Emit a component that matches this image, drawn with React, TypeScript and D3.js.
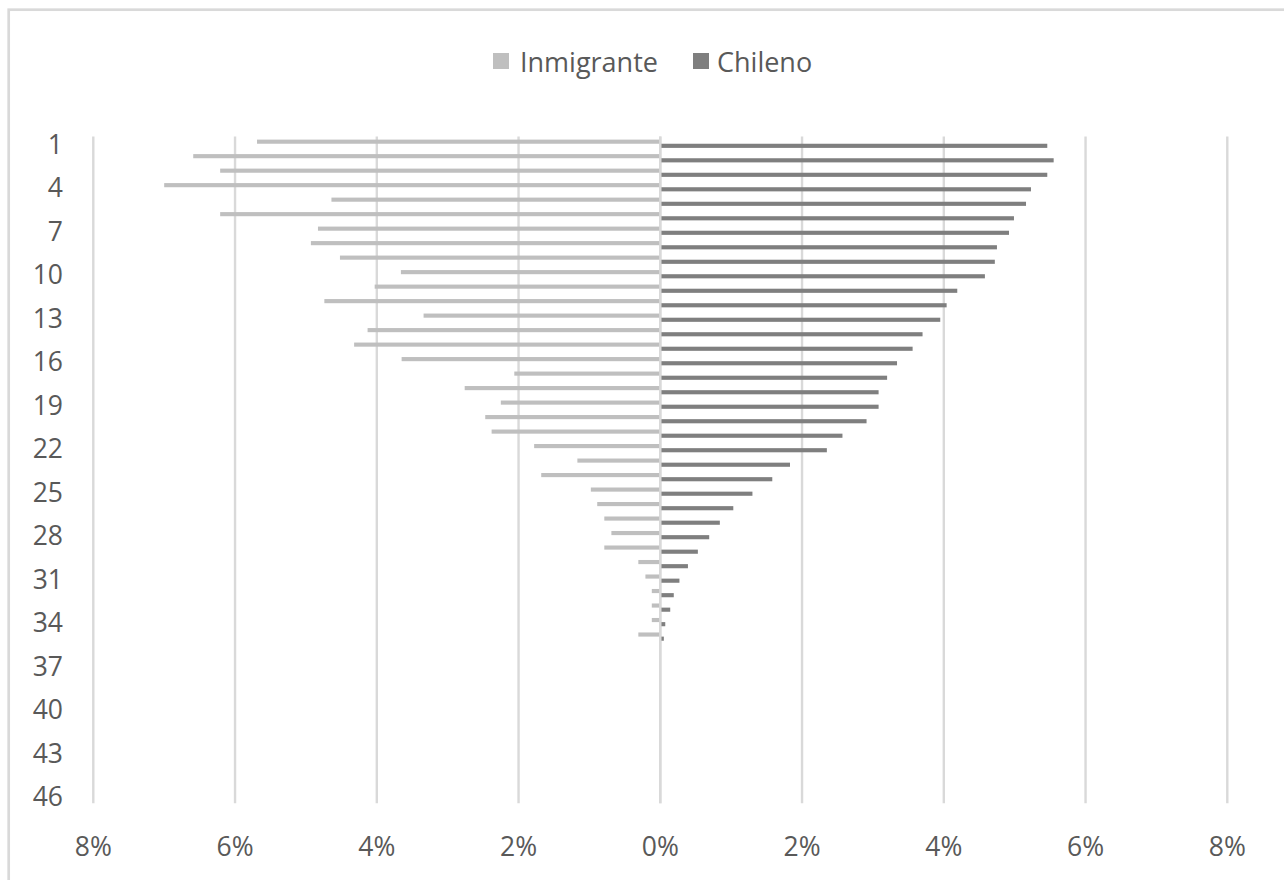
import React from "react";
import * as d3 from "d3";

const categories: number[] = d3.range(1, 47);
const tickCategories: number[] = [1, 4, 7, 10, 13, 16, 19, 22, 25, 28, 31, 34, 37, 40, 43, 46];
const seriesNames = ["Inmigrante", "Chileno"];
const seriesColors = ["#bfbfbf", "#7f7f7f"];

// percent values, categories 1..35
const inmigrante: number[] = [
  5.69, 6.59, 6.21, 7.0, 4.64, 6.21, 4.83, 4.93, 4.52, 3.66, 4.03, 4.74, 3.34, 4.13, 4.32,
  3.65, 2.06, 2.76, 2.25, 2.47, 2.38, 1.78, 1.17, 1.68, 0.98, 0.89, 0.79, 0.69, 0.79, 0.31,
  0.21, 0.12, 0.12, 0.12, 0.31,
];
const chileno: number[] = [
  5.46, 5.55, 5.46, 5.23, 5.16, 4.99, 4.92, 4.75, 4.72, 4.58, 4.19, 4.04, 3.95, 3.7, 3.56,
  3.34, 3.2, 3.08, 3.08, 2.91, 2.57, 2.35, 1.83, 1.58, 1.3, 1.03, 0.84, 0.69, 0.53, 0.39,
  0.27, 0.19, 0.14, 0.07, 0.05,
];
const xTicks: number[] = [-8, -6, -4, -2, 0, 2, 4, 6, 8];

const W = 1284;
const H = 880;
const FONT = "'Open Sans', 'Noto Sans', sans-serif";
const TEXT = "#595959";
const GRID = "#d9d9d9";

export default function App() {
  const x = d3.scaleLinear().domain([-8, 8]).range([93.3, 1227.3]);
  const y = d3.scaleBand<number>().domain(categories).range([136.5, 803.3]).padding(0);
  const sub = d3
    .scaleBand<string>()
    .domain(seriesNames)
    .range([0, y.bandwidth()])
    .paddingInner(0)
    .paddingOuter(0.75);

  const bars: { key: string; x0: number; x1: number; y0: number; h: number; color: string }[] = [];
  inmigrante.forEach((v, i) => {
    const c = categories[i];
    bars.push({
      key: "i" + c,
      x0: x(-v),
      x1: x(0),
      y0: (y(c) as number) + (sub("Inmigrante") as number),
      h: sub.bandwidth(),
      color: seriesColors[0],
    });
  });
  chileno.forEach((v, i) => {
    const c = categories[i];
    bars.push({
      key: "c" + c,
      x0: x(0),
      x1: x(v),
      y0: (y(c) as number) + (sub("Chileno") as number),
      h: sub.bandwidth(),
      color: seriesColors[1],
    });
  });

  const [yTop, yBot] = y.range();

  return (
    <svg
      width={W}
      height={H}
      style={{ position: "absolute", left: 0, top: 0, background: "#fff" }}
      fontFamily={FONT}
    >
      <rect x={0} y={0} width={W} height={H} fill="#fff" />
      {/* chart frame */}
      <rect x={8.7} y={9.7} width={W + 20} height={H + 20} fill="none" stroke={GRID} strokeWidth={2.7} />

      {/* gridlines */}
      {xTicks.map((t) => (
        <line key={"g" + t} x1={x(t)} x2={x(t)} y1={yTop} y2={yBot} stroke={GRID} strokeWidth={2.4} />
      ))}

      {/* bars */}
      {bars.map((b) => (
        <rect key={b.key} x={b.x0} y={b.y0} width={Math.max(0, b.x1 - b.x0)} height={b.h} fill={b.color} />
      ))}

      {/* category axis line at zero */}
      <line x1={x(0)} x2={x(0)} y1={yTop} y2={yBot} stroke={GRID} strokeWidth={2.4} />

      {/* y labels */}
      {tickCategories.map((c) => (
        <text
          key={"yl" + c}
          x={63}
          y={(y(c) as number) + y.bandwidth() / 2}
          textAnchor="end"
          dominantBaseline="central"
          fontSize={26.5}
          fill={TEXT}
        >
          {c}
        </text>
      ))}

      {/* x labels */}
      {xTicks.map((t) => (
        <text
          key={"xl" + t}
          x={x(t)}
          y={846}
          textAnchor="middle"
          dominantBaseline="central"
          fontSize={26.5}
          fill={TEXT}
        >
          {Math.abs(t) + "%"}
        </text>
      ))}

      {/* legend */}
      <rect x={493} y={53} width={16} height={16} fill={seriesColors[0]} />
      <text x={520} y={61} dominantBaseline="central" fontSize={27} fill={TEXT}>
        {seriesNames[0]}
      </text>
      <rect x={693} y={53} width={16} height={16} fill={seriesColors[1]} />
      <text x={717} y={61} dominantBaseline="central" fontSize={27} fill={TEXT}>
        {seriesNames[1]}
      </text>
    </svg>
  );
}
